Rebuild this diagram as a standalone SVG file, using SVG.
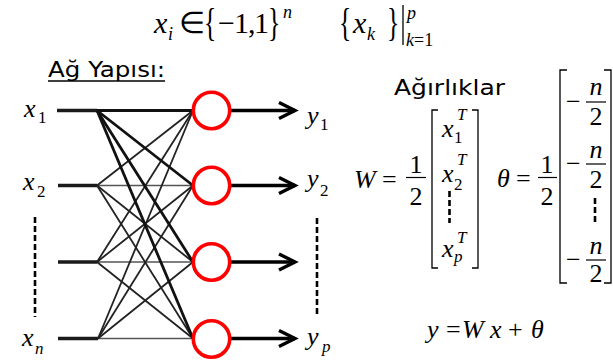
<svg xmlns="http://www.w3.org/2000/svg" width="613" height="363" viewBox="0 0 613 363">
<defs>
<marker id="ah" markerUnits="userSpaceOnUse" markerWidth="22" markerHeight="22" refX="17" refY="9" orient="auto" overflow="visible">
<path d="M1,1 L17,9 L1,17" fill="none" stroke="#000" stroke-width="3.4"/>
</marker>
</defs>

<text font-family="Liberation Serif" font-size="30" font-style="italic" x="154" y="33">x</text>
<text font-family="Liberation Serif" font-size="18" font-style="italic" x="168" y="40">i</text>
<text font-family="Liberation Serif" font-size="30" x="179" y="33">∈</text>
<text font-family="Liberation Serif" font-size="30" transform="translate(204,36) scale(0.85,1.35)">{</text>
<text font-family="Liberation Serif" font-size="30" x="218" y="33">−</text>
<text font-family="Liberation Serif" font-size="30" x="234" y="33">1</text>
<text font-family="Liberation Serif" font-size="30" x="248" y="33">,</text>
<text font-family="Liberation Serif" font-size="30" x="254" y="33">1</text>
<text font-family="Liberation Serif" font-size="30" transform="translate(268,36) scale(0.85,1.35)">}</text>
<text font-family="Liberation Serif" font-size="18" font-style="italic" x="283" y="18">n</text>
<text font-family="Liberation Serif" font-size="30" transform="translate(339,36) scale(0.85,1.35)">{</text>
<text font-family="Liberation Serif" font-size="30" font-style="italic" x="353" y="33">x</text>
<text font-family="Liberation Serif" font-size="18" font-style="italic" x="367" y="40">k</text>
<text font-family="Liberation Serif" font-size="30" transform="translate(387,36) scale(0.85,1.35)">}</text>
<line x1="403" y1="5" x2="403" y2="45" stroke="#000" stroke-width="1.3"/>
<text font-family="Liberation Serif" font-size="18" font-style="italic" x="407" y="19">p</text>
<text font-family="Liberation Serif" font-size="18" x="406" y="46"><tspan font-style="italic">k</tspan>=1</text>

<text font-family="DejaVu Sans" font-size="21" x="48" y="77" textLength="117" lengthAdjust="spacingAndGlyphs">Ağ Yapısı:</text>
<line x1="48" y1="81" x2="165" y2="81" stroke="#000" stroke-width="1.6"/>

<g id="connectors" fill="none">
<g stroke="#1a1a1a" stroke-width="3.5">
<line x1="57" y1="110.5" x2="97" y2="110.5"/>
<line x1="58" y1="185.5" x2="97" y2="185.5"/>
<line x1="58" y1="262" x2="97" y2="262"/>
<line x1="58" y1="338.5" x2="98" y2="338.5"/>
</g>
<g stroke="#555" stroke-width="1.6">
<line x1="97" y1="185.5" x2="193" y2="185.5"/>
<line x1="97" y1="262" x2="193" y2="262"/>
<line x1="98" y1="338.5" x2="193" y2="338.5"/>
</g>
<g stroke="#222" stroke-width="1.8">
<line x1="97" y1="185.5" x2="193" y2="110.5"/>
<line x1="97" y1="185.5" x2="193" y2="262"/>
<line x1="97" y1="185.5" x2="193" y2="338.5"/>
<line x1="97" y1="262" x2="193" y2="110.5"/>
<line x1="97" y1="262" x2="193" y2="185.5"/>
<line x1="97" y1="262" x2="193" y2="338.5"/>
<line x1="98" y1="338.5" x2="193" y2="110.5"/>
<line x1="98" y1="338.5" x2="193" y2="185.5"/>
<line x1="98" y1="338.5" x2="193" y2="262"/>
</g>
<g stroke="#111" stroke-width="2.8">
<line x1="97" y1="110.5" x2="193" y2="110.5"/>
<line x1="97" y1="110.5" x2="193" y2="185.5"/>
<line x1="97" y1="110.5" x2="193" y2="262"/>
<line x1="97" y1="110.5" x2="193" y2="338.5"/>
</g>
<g stroke="#000" stroke-width="3.4" marker-end="url(#ah)">
<line x1="230" y1="110.5" x2="295" y2="110.5"/>
<line x1="230" y1="185.5" x2="295" y2="185.5"/>
<line x1="230" y1="262" x2="295" y2="262"/>
<line x1="230" y1="338.5" x2="295" y2="338.5"/>
</g>
</g>

<text font-family="Liberation Serif" font-size="26" font-style="italic" x="24" y="117">x</text>
<text font-family="Liberation Serif" font-size="17" x="38" y="123">1</text>
<text font-family="Liberation Serif" font-size="26" font-style="italic" x="23" y="190">x</text>
<text font-family="Liberation Serif" font-size="17" x="37" y="197">2</text>
<line x1="35" y1="217" x2="35" y2="317" stroke="#000" stroke-width="2.6" stroke-dasharray="6 3"/>
<text font-family="Liberation Serif" font-size="26" font-style="italic" x="22" y="346">x</text>
<text font-family="Liberation Serif" font-size="17" font-style="italic" x="35" y="354">n</text>

<g id="neuron-1"><circle cx="211.5" cy="110.5" r="18.2" fill="#fff" stroke="#ff0000" stroke-width="3.6"/></g>
<g id="neuron-2"><circle cx="211.5" cy="185.5" r="18.2" fill="#fff" stroke="#ff0000" stroke-width="3.6"/></g>
<g id="neuron-3"><circle cx="211.5" cy="262" r="18.2" fill="#fff" stroke="#ff0000" stroke-width="3.6"/></g>
<g id="neuron-4"><circle cx="211.5" cy="339" r="18.2" fill="#fff" stroke="#ff0000" stroke-width="3.6"/></g>

<text font-family="Liberation Serif" font-size="26" font-style="italic" x="307" y="124">y</text>
<text font-family="Liberation Serif" font-size="17" x="320" y="130">1</text>
<text font-family="Liberation Serif" font-size="26" font-style="italic" x="307" y="187">y</text>
<text font-family="Liberation Serif" font-size="17" x="320" y="196">2</text>
<line x1="317" y1="218" x2="317" y2="317" stroke="#000" stroke-width="2.6" stroke-dasharray="6 3"/>
<text font-family="Liberation Serif" font-size="26" font-style="italic" x="307" y="345">y</text>
<text font-family="Liberation Serif" font-size="17" font-style="italic" x="322" y="352">p</text>

<text font-family="DejaVu Sans" font-size="21" x="394" y="95" textLength="111" lengthAdjust="spacingAndGlyphs">Ağırlıklar</text>

<text font-family="Liberation Serif" font-size="26" font-style="italic" x="354" y="188">W</text>
<text font-family="Liberation Serif" font-size="26" x="382" y="188">=</text>
<text font-family="Liberation Serif" font-size="26" x="416" y="173" text-anchor="middle">1</text>
<line x1="406" y1="177.5" x2="426" y2="177.5" stroke="#000" stroke-width="1.2"/>
<text font-family="Liberation Serif" font-size="26" x="416" y="205" text-anchor="middle">2</text>
<path d="M438,110 H432 V268 H438 M472,110 H478 V268 H472" fill="none" stroke="#000" stroke-width="1.3"/>
<text font-family="Liberation Serif" font-size="26" font-style="italic" x="442" y="137">x</text>
<text font-family="Liberation Serif" font-size="17" font-style="italic" x="457" y="120">T</text>
<text font-family="Liberation Serif" font-size="17" x="454" y="143">1</text>
<text font-family="Liberation Serif" font-size="26" font-style="italic" x="442" y="182">x</text>
<text font-family="Liberation Serif" font-size="17" font-style="italic" x="457" y="165">T</text>
<text font-family="Liberation Serif" font-size="17" x="454" y="190">2</text>
<line x1="449.5" y1="191" x2="449.5" y2="223" stroke="#000" stroke-width="2.6" stroke-dasharray="6 3"/>
<text font-family="Liberation Serif" font-size="26" font-style="italic" x="442" y="257">x</text>
<text font-family="Liberation Serif" font-size="17" font-style="italic" x="457" y="243">T</text>
<text font-family="Liberation Serif" font-size="17" font-style="italic" x="454" y="262">p</text>

<text font-family="Liberation Serif" font-size="26" font-style="italic" x="497" y="187">θ</text>
<text font-family="Liberation Serif" font-size="26" x="516" y="187">=</text>
<text font-family="Liberation Serif" font-size="26" x="547" y="173" text-anchor="middle">1</text>
<line x1="538" y1="177.5" x2="557" y2="177.5" stroke="#000" stroke-width="1.2"/>
<text font-family="Liberation Serif" font-size="26" x="547" y="205" text-anchor="middle">2</text>
<path d="M567,70 H560 V283 H567 M604,70 H611 V283 H604" fill="none" stroke="#000" stroke-width="1.3"/>
<text font-family="Liberation Serif" font-size="26" x="566" y="110">−</text>
<text font-family="Liberation Serif" font-size="26" font-style="italic" x="596" y="95" text-anchor="middle">n</text>
<line x1="586" y1="102" x2="606" y2="102" stroke="#000" stroke-width="1.2"/>
<text font-family="Liberation Serif" font-size="26" x="596" y="125" text-anchor="middle">2</text>
<text font-family="Liberation Serif" font-size="26" x="566" y="172">−</text>
<text font-family="Liberation Serif" font-size="26" font-style="italic" x="596" y="158" text-anchor="middle">n</text>
<line x1="586" y1="164" x2="606" y2="164" stroke="#000" stroke-width="1.2"/>
<text font-family="Liberation Serif" font-size="26" x="596" y="188" text-anchor="middle">2</text>
<line x1="595" y1="198" x2="595" y2="225" stroke="#000" stroke-width="2.6" stroke-dasharray="6 3"/>
<text font-family="Liberation Serif" font-size="26" x="566" y="268">−</text>
<text font-family="Liberation Serif" font-size="26" font-style="italic" x="596" y="254" text-anchor="middle">n</text>
<line x1="586" y1="260" x2="606" y2="260" stroke="#000" stroke-width="1.2"/>
<text font-family="Liberation Serif" font-size="26" x="596" y="282" text-anchor="middle">2</text>

<text font-family="Liberation Serif" font-size="26" font-style="italic" x="427" y="338">y</text>
<text font-family="Liberation Serif" font-size="26" x="446" y="338">=</text>
<text font-family="Liberation Serif" font-size="26" font-style="italic" x="462" y="338">W</text>
<text font-family="Liberation Serif" font-size="26" font-style="italic" x="490" y="338">x</text>
<text font-family="Liberation Serif" font-size="26" x="508" y="338">+</text>
<text font-family="Liberation Serif" font-size="26" font-style="italic" x="531" y="338">θ</text>
</svg>
